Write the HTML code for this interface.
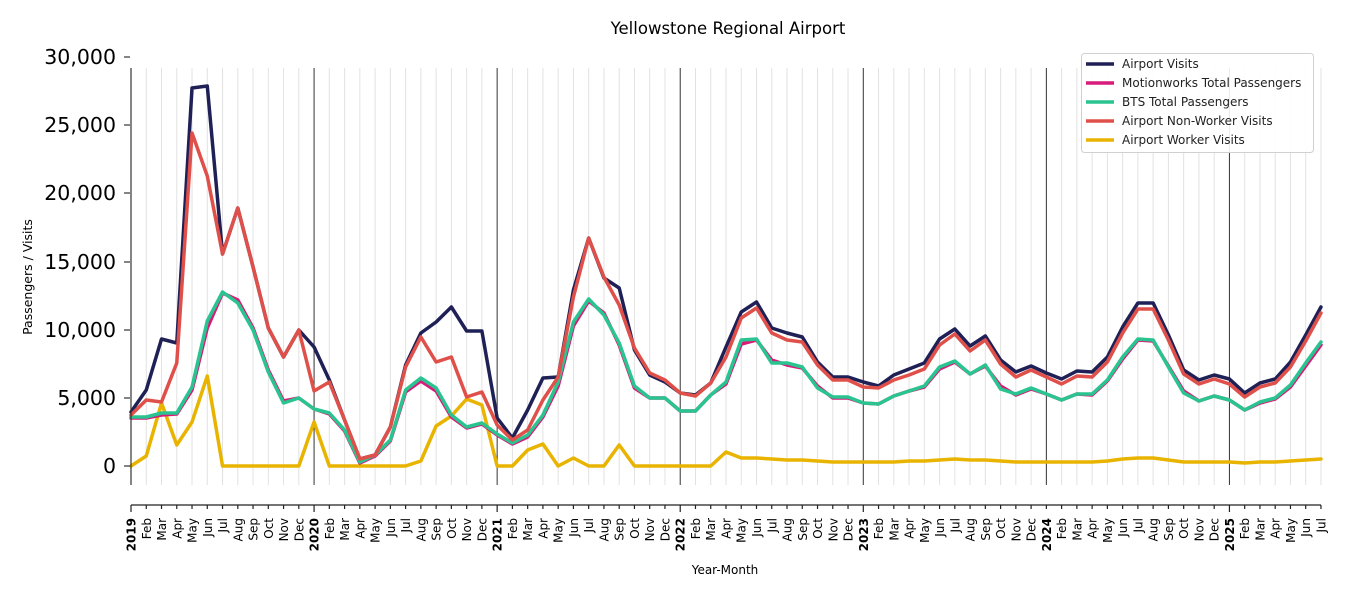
<!DOCTYPE html>
<html><head><meta charset="utf-8"><style>
html,body{margin:0;padding:0;background:#fff;}
svg{display:block;font-family:"DejaVu Sans","Liberation Sans",sans-serif;}
</style></head><body>
<svg width="1350" height="600" viewBox="0 0 1350 600" xmlns="http://www.w3.org/2000/svg">
<rect width="1350" height="600" fill="#fff"/>
<text x="728" y="34" font-size="16.5" text-anchor="middle" fill="#000">Yellowstone Regional Airport</text>
<g transform="translate(131,0) scale(15.256,1)">
<path vector-effect="non-scaling-stroke" stroke="#e2e2e2" stroke-width="1" fill="none" d="M1 68V485M2 68V485M3 68V485M4 68V485M5 68V485M6 68V485M7 68V485M8 68V485M9 68V485M10 68V485M11 68V485M13 68V485M14 68V485M15 68V485M16 68V485M17 68V485M18 68V485M19 68V485M20 68V485M21 68V485M22 68V485M23 68V485M25 68V485M26 68V485M27 68V485M28 68V485M29 68V485M30 68V485M31 68V485M32 68V485M33 68V485M34 68V485M35 68V485M37 68V485M38 68V485M39 68V485M40 68V485M41 68V485M42 68V485M43 68V485M44 68V485M45 68V485M46 68V485M47 68V485M49 68V485M50 68V485M51 68V485M52 68V485M53 68V485M54 68V485M55 68V485M56 68V485M57 68V485M58 68V485M59 68V485M61 68V485M62 68V485M63 68V485M64 68V485M65 68V485M66 68V485M67 68V485M68 68V485M69 68V485M70 68V485M71 68V485M73 68V485M74 68V485M75 68V485M76 68V485M77 68V485M78 68V485"/>
<path vector-effect="non-scaling-stroke" stroke="#333" stroke-width="1" d="M12 68V485M24 68V485M36 68V485M48 68V485M60 68V485M72 68V485" fill="none"/>
<g fill="none" stroke-width="3.5" stroke-linejoin="round" stroke-linecap="round">
<polyline vector-effect="non-scaling-stroke" stroke="#e8b400" points="0,466 1,456 2,403 3,445 4,422 5,376 6,466 7,466 8,466 9,466 10,466 11,466 12,422 13,466 14,466 15,466 16,466 17,466 18,466 19,461 20,426 21,416 22,399 23,405 24,466 25,466 26,450 27,444 28,466 29,458 30,466 31,466 32,445 33,466 34,466 35,466 36,466 37,466 38,466 39,452 40,458 41,458 42,459 43,460 44,460 45,461 46,462 47,462 48,462 49,462 50,462 51,461 52,461 53,460 54,459 55,460 56,460 57,461 58,462 59,462 60,462 61,462 62,462 63,462 64,461 65,459 66,458 67,458 68,460 69,462 70,462 71,462 72,462 73,463 74,462 75,462 76,461 77,460 78,459"/>
<polyline vector-effect="non-scaling-stroke" stroke="#1f2055" points="0,412 1,390 2,339 3,343 4,88 5,86 6,254 7,208 8,267 9,328 10,357 11,330 12,347 13,380 14,420 15,459 16,455 17,427 18,365 19,333 20,322 21,307 22,331 23,331 24,418 25,438 26,410 27,378 28,377 29,290 30,238 31,278 32,288 33,350 34,375 35,382 36,393 37,395 38,383 39,347 40,312 41,302 42,328 43,333 44,337 45,362 46,377 47,377 48,382 49,386 50,375 51,369 52,363 53,339 54,329 55,346 56,336 57,360 58,372 59,366 60,373 61,379 62,371 63,372 64,357 65,327 66,303 67,303 68,335 69,370 70,380 71,375 72,379 73,393 74,383 75,379 76,362 77,335 78,307"/>
<polyline vector-effect="non-scaling-stroke" stroke="#d81b7a" points="0,418 1,418 2,415 3,414 4,390 5,328 6,293 7,300 8,328 9,370 10,401 11,398 12,409 13,414 14,431 15,463 16,456 17,441 18,392 19,381 20,391 21,417 22,428 23,424 24,435 25,444 26,437 27,417 28,386 29,326 30,301 31,313 32,345 33,388 34,398 35,398 36,411 37,411 38,395 39,384 40,344 41,340 42,360 43,365 44,368 45,386 46,398 47,398 48,403 49,404 50,396 51,391 52,387 53,369 54,362 55,374 56,366 57,386 58,395 59,389 60,394 61,400 62,394 63,395 64,381 65,359 66,340 67,341 68,366 69,391 70,401 71,396 72,400 73,410 74,403 75,399 76,387 77,366 78,345"/>
<polyline vector-effect="non-scaling-stroke" stroke="#2ac490" points="0,417 1,417 2,413 3,413 4,387 5,321 6,292 7,303 8,330 9,372 10,403 11,398 12,409 13,413 14,430 15,462 16,455 17,440 18,390 19,378 20,388 21,415 22,427 23,423 24,434 25,443 26,435 27,415 28,382 29,322 30,299 31,315 32,343 33,386 34,398 35,398 36,411 37,411 38,395 39,382 40,340 41,339 42,363 43,363 44,367 45,388 46,397 47,397 48,403 49,404 50,396 51,391 52,386 53,367 54,361 55,374 56,365 57,389 58,394 59,388 60,394 61,400 62,394 63,394 64,380 65,357 66,339 67,340 68,367 69,393 70,401 71,396 72,400 73,410 74,402 75,398 76,385 77,363 78,342"/>
<polyline vector-effect="non-scaling-stroke" stroke="#e0504a" points="0,415 1,400 2,402 3,363 4,133 5,176 6,254 7,208 8,267 9,328 10,357 11,330 12,391 13,382 14,420 15,459 16,455 17,427 18,367 19,337 20,362 21,357 22,397 23,392 24,425 25,440 26,430 27,400 28,377 29,297 30,238 31,277 32,305 33,348 34,373 35,380 36,393 37,396 38,383 39,357 40,318 41,308 42,333 43,340 44,342 45,365 46,380 47,380 48,387 49,388 50,380 51,375 52,369 53,345 54,334 55,351 56,340 57,364 58,377 59,370 60,377 61,384 62,376 63,377 64,362 65,333 66,309 67,309 68,340 69,374 70,384 71,379 72,384 73,397 74,387 75,383 76,367 77,341 78,313"/>
</g>
</g>
<line x1="131" y1="68" x2="131" y2="485" stroke="#333" stroke-width="1.2"/>
<g stroke="#333" stroke-width="1.2">
<line x1="124" y1="57" x2="130" y2="57"/><line x1="124" y1="125" x2="130" y2="125"/><line x1="124" y1="193" x2="130" y2="193"/><line x1="124" y1="262" x2="130" y2="262"/><line x1="124" y1="330" x2="130" y2="330"/><line x1="124" y1="398" x2="130" y2="398"/><line x1="124" y1="466" x2="130" y2="466"/>
</g>
<g font-size="20.5" text-anchor="end" fill="#000">
<text x="116" y="64">30,000</text><text x="116" y="132">25,000</text><text x="116" y="200">20,000</text><text x="116" y="269">15,000</text><text x="116" y="337">10,000</text><text x="116" y="405">5,000</text><text x="116" y="473">0</text>
</g>
<text transform="translate(32,277) rotate(-90)" font-size="12.5" text-anchor="middle">Passengers / Visits</text>
<line x1="131" y1="505" x2="1321" y2="505" stroke="#222" stroke-width="1.3"/>
<g transform="translate(131,0) scale(15.256,1)">
<path vector-effect="non-scaling-stroke" stroke="#222" stroke-width="1.2" fill="none" d="M0 505V512M1 505V509M2 505V509M3 505V509M4 505V509M5 505V509M6 505V509M7 505V509M8 505V509M9 505V509M10 505V509M11 505V509M12 505V512M13 505V509M14 505V509M15 505V509M16 505V509M17 505V509M18 505V509M19 505V509M20 505V509M21 505V509M22 505V509M23 505V509M24 505V512M25 505V509M26 505V509M27 505V509M28 505V509M29 505V509M30 505V509M31 505V509M32 505V509M33 505V509M34 505V509M35 505V509M36 505V512M37 505V509M38 505V509M39 505V509M40 505V509M41 505V509M42 505V509M43 505V509M44 505V509M45 505V509M46 505V509M47 505V509M48 505V512M49 505V509M50 505V509M51 505V509M52 505V509M53 505V509M54 505V509M55 505V509M56 505V509M57 505V509M58 505V509M59 505V509M60 505V509M61 505V509M62 505V509M63 505V509M64 505V509M65 505V509M66 505V509M67 505V509M68 505V509M69 505V509M70 505V509M71 505V509M72 505V512M73 505V509M74 505V509M75 505V509M76 505V509M77 505V509M78 505V509"/>
</g>
<g font-size="12" text-anchor="end" fill="#000">
<text font-weight="bold" transform="translate(135.5,518) rotate(-90)">2019</text>
<text transform="translate(150.8,518) rotate(-90)">Feb</text>
<text transform="translate(166,518) rotate(-90)">Mar</text>
<text transform="translate(181.3,518) rotate(-90)">Apr</text>
<text transform="translate(196.5,518) rotate(-90)">May</text>
<text transform="translate(211.8,518) rotate(-90)">Jun</text>
<text transform="translate(227,518) rotate(-90)">Jul</text>
<text transform="translate(242.3,518) rotate(-90)">Aug</text>
<text transform="translate(257.5,518) rotate(-90)">Sep</text>
<text transform="translate(272.8,518) rotate(-90)">Oct</text>
<text transform="translate(288.1,518) rotate(-90)">Nov</text>
<text transform="translate(303.3,518) rotate(-90)">Dec</text>
<text font-weight="bold" transform="translate(318.6,518) rotate(-90)">2020</text>
<text transform="translate(333.8,518) rotate(-90)">Feb</text>
<text transform="translate(349.1,518) rotate(-90)">Mar</text>
<text transform="translate(364.3,518) rotate(-90)">Apr</text>
<text transform="translate(379.6,518) rotate(-90)">May</text>
<text transform="translate(394.9,518) rotate(-90)">Jun</text>
<text transform="translate(410.1,518) rotate(-90)">Jul</text>
<text transform="translate(425.4,518) rotate(-90)">Aug</text>
<text transform="translate(440.6,518) rotate(-90)">Sep</text>
<text transform="translate(455.9,518) rotate(-90)">Oct</text>
<text transform="translate(471.1,518) rotate(-90)">Nov</text>
<text transform="translate(486.4,518) rotate(-90)">Dec</text>
<text font-weight="bold" transform="translate(501.6,518) rotate(-90)">2021</text>
<text transform="translate(516.9,518) rotate(-90)">Feb</text>
<text transform="translate(532.2,518) rotate(-90)">Mar</text>
<text transform="translate(547.4,518) rotate(-90)">Apr</text>
<text transform="translate(562.7,518) rotate(-90)">May</text>
<text transform="translate(577.9,518) rotate(-90)">Jun</text>
<text transform="translate(593.2,518) rotate(-90)">Jul</text>
<text transform="translate(608.4,518) rotate(-90)">Aug</text>
<text transform="translate(623.7,518) rotate(-90)">Sep</text>
<text transform="translate(638.9,518) rotate(-90)">Oct</text>
<text transform="translate(654.2,518) rotate(-90)">Nov</text>
<text transform="translate(669.5,518) rotate(-90)">Dec</text>
<text font-weight="bold" transform="translate(684.7,518) rotate(-90)">2022</text>
<text transform="translate(700,518) rotate(-90)">Feb</text>
<text transform="translate(715.2,518) rotate(-90)">Mar</text>
<text transform="translate(730.5,518) rotate(-90)">Apr</text>
<text transform="translate(745.7,518) rotate(-90)">May</text>
<text transform="translate(761,518) rotate(-90)">Jun</text>
<text transform="translate(776.3,518) rotate(-90)">Jul</text>
<text transform="translate(791.5,518) rotate(-90)">Aug</text>
<text transform="translate(806.8,518) rotate(-90)">Sep</text>
<text transform="translate(822,518) rotate(-90)">Oct</text>
<text transform="translate(837.3,518) rotate(-90)">Nov</text>
<text transform="translate(852.5,518) rotate(-90)">Dec</text>
<text font-weight="bold" transform="translate(867.8,518) rotate(-90)">2023</text>
<text transform="translate(883,518) rotate(-90)">Feb</text>
<text transform="translate(898.3,518) rotate(-90)">Mar</text>
<text transform="translate(913.6,518) rotate(-90)">Apr</text>
<text transform="translate(928.8,518) rotate(-90)">May</text>
<text transform="translate(944.1,518) rotate(-90)">Jun</text>
<text transform="translate(959.3,518) rotate(-90)">Jul</text>
<text transform="translate(974.6,518) rotate(-90)">Aug</text>
<text transform="translate(989.8,518) rotate(-90)">Sep</text>
<text transform="translate(1005.1,518) rotate(-90)">Oct</text>
<text transform="translate(1020.3,518) rotate(-90)">Nov</text>
<text transform="translate(1035.6,518) rotate(-90)">Dec</text>
<text font-weight="bold" transform="translate(1050.9,518) rotate(-90)">2024</text>
<text transform="translate(1066.1,518) rotate(-90)">Feb</text>
<text transform="translate(1081.4,518) rotate(-90)">Mar</text>
<text transform="translate(1096.6,518) rotate(-90)">Apr</text>
<text transform="translate(1111.9,518) rotate(-90)">May</text>
<text transform="translate(1127.1,518) rotate(-90)">Jun</text>
<text transform="translate(1142.4,518) rotate(-90)">Jul</text>
<text transform="translate(1157.7,518) rotate(-90)">Aug</text>
<text transform="translate(1172.9,518) rotate(-90)">Sep</text>
<text transform="translate(1188.1,518) rotate(-90)">Oct</text>
<text transform="translate(1203.4,518) rotate(-90)">Nov</text>
<text transform="translate(1218.7,518) rotate(-90)">Dec</text>
<text font-weight="bold" transform="translate(1233.9,518) rotate(-90)">2025</text>
<text transform="translate(1249.2,518) rotate(-90)">Feb</text>
<text transform="translate(1264.4,518) rotate(-90)">Mar</text>
<text transform="translate(1279.7,518) rotate(-90)">Apr</text>
<text transform="translate(1295,518) rotate(-90)">May</text>
<text transform="translate(1310.2,518) rotate(-90)">Jun</text>
<text transform="translate(1325.5,518) rotate(-90)">Jul</text>
</g>
<text x="725" y="574" font-size="12" text-anchor="middle">Year-Month</text>
<rect x="1081.5" y="53.5" width="232" height="99" rx="3" fill="#fff" fill-opacity="0.9" stroke="#d0d0d0" stroke-width="1"/>
<g stroke-width="3.5">
<line x1="1086" y1="64" x2="1114" y2="64" stroke="#1f2055"/>
<line x1="1086" y1="83" x2="1114" y2="83" stroke="#d81b7a"/>
<line x1="1086" y1="102" x2="1114" y2="102" stroke="#2ac490"/>
<line x1="1086" y1="121" x2="1114" y2="121" stroke="#e0504a"/>
<line x1="1086" y1="140" x2="1114" y2="140" stroke="#e8b400"/>
</g>
<g font-size="12" fill="#222">
<text x="1122" y="68">Airport Visits</text>
<text x="1122" y="87">Motionworks Total Passengers</text>
<text x="1122" y="106">BTS Total Passengers</text>
<text x="1122" y="125">Airport Non-Worker Visits</text>
<text x="1122" y="144">Airport Worker Visits</text>
</g>
</svg>
</body></html>
